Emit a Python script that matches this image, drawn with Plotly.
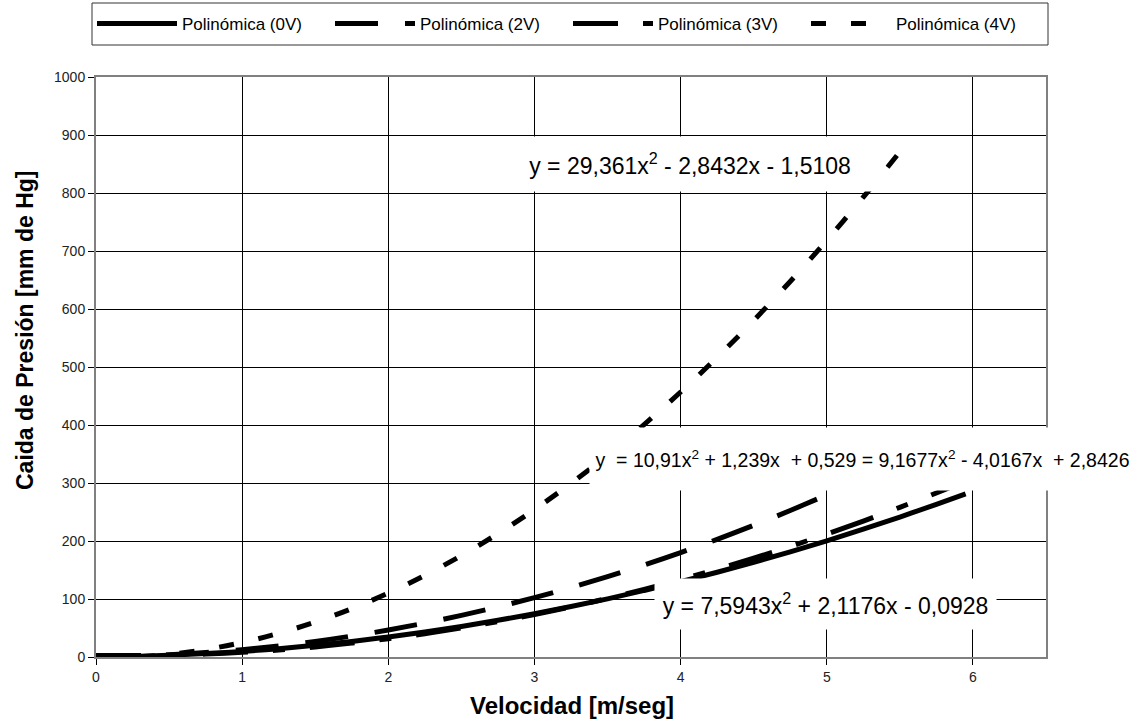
import plotly.graph_objects as go

# ---- data ----
x_0v = [0, 0.25, 0.5, 0.75, 1, 1.25, 1.5, 1.75, 2, 2.25, 2.5, 2.75, 3, 3.25, 3.5, 3.75,
        4, 4.25, 4.5, 4.75, 5, 5.25, 5.5, 5.75, 5.95]
y_0v = [0, 1, 3, 6, 9.6, 14.4, 20.2, 26.9, 34.5, 43.1, 52.7, 63.2, 74.6, 87, 100.3, 114.7,
        129.9, 146.1, 163.2, 181.3, 200.4, 220.3, 241.3, 263.2, 281.4]

x_2v = [0, 0.25, 0.5, 0.75, 1, 1.25, 1.5, 1.75, 2, 2.25, 2.5, 2.75, 3, 3.25, 3.5, 3.75,
        4, 4.25, 4.5, 4.75, 5, 5.1]
y_2v = [0.5, 1.5, 3.9, 7.6, 12.7, 19.1, 26.9, 36.1, 46.6, 58.5, 71.8, 86.4, 102.4, 119.8,
        138.5, 158.6, 180, 202.9, 227, 252.6, 279.5, 290.6]

x_3v = [0, 0.25, 0.5, 0.75, 1, 1.25, 1.5, 1.75, 2, 2.25, 2.5, 2.75, 3, 3.25, 3.5, 3.75,
        4, 4.25, 4.5, 4.75, 5, 5.25, 5.5, 5.75, 5.9]
y_3v = [2.8, 2.4, 3.1, 5, 8, 12.1, 17.4, 23.9, 31.5, 40.2, 50.1, 61.1, 73.3, 86.6, 101.1,
        116.7, 133.5, 151.4, 170.4, 190.6, 212, 234.4, 258.1, 282.8, 298]

x_4v = [0.3, 0.5, 0.75, 1, 1.25, 1.5, 1.75, 2, 2.25, 2.5, 2.75, 3, 3.25, 3.5, 3.75,
        4, 4.25, 4.5, 4.75, 5, 5.25, 5.48]
y_4v = [0.3, 4.4, 12.9, 25, 40.8, 60.3, 83.4, 110.2, 140.7, 174.9, 212.7, 254.2, 299.4,
        348.2, 400.7, 456.9, 516.7, 580.3, 647.5, 718.3, 792.9, 864.6]

series_names = ["Polinómica (0V)", "Polinómica (2V)", "Polinómica (3V)", "Polinómica (4V)"]
eq_4v = "y = 29,361x<sup>2</sup> - 2,8432x - 1,5108"
eq_2v_3v = "y  = 10,91x<sup>2</sup> + 1,239x  + 0,529 = 9,1677x<sup>2</sup> - 4,0167x  + 2,8426"
eq_0v = "y = 7,5943x<sup>2</sup> + 2,1176x - 0,0928"
x_title = "Velocidad [m/seg]"
y_title = "Caida de Presión [mm de Hg]"
x_ticks = [0, 1, 2, 3, 4, 5, 6]
y_ticks = [0, 100, 200, 300, 400, 500, 600, 700, 800, 900, 1000]

W, H = 1139, 725
ML, MR, MT, MB = 96, 93, 77, 68
XMAX, YMAX = 6.5, 1000
PW, PH = W - ML - MR, H - MT - MB


def dx(px):
    return (px - ML) / PW * XMAX


def dy(py):
    return (H - MB - py) / PH * YMAX


def px_to_paper_x(px):
    return (px - ML) / PW


def py_to_paper_y(py):
    return (H - MB - py) / PH


font_main = "Liberation Sans, Arial, sans-serif"

fig = go.Figure()
styles = [
    dict(dash="solid"),
    dict(dash="43px,27px"),
    dict(dash="45px,25px,12px,25px"),
    dict(dash="15px,25px"),
]
for (xs, ys), name, st in zip([(x_0v, y_0v), (x_2v, y_2v), (x_3v, y_3v), (x_4v, y_4v)],
                              series_names, styles):
    fig.add_trace(go.Scatter(x=xs, y=ys, mode="lines", name=name,
                             line=dict(color="black", width=5, shape="spline", **st)))

fig.update_layout(
    width=W, height=H,
    margin=dict(l=ML, r=MR, t=MT, b=MB),
    paper_bgcolor="white", plot_bgcolor="white",
    showlegend=True,
    legend=dict(
        orientation="h", xref="container", yref="container",
        x=92 / W, y=1 - 24 / H, xanchor="left", yanchor="middle",
        font=dict(family=font_main, size=17, color="black"),
        borderwidth=0, bgcolor="rgba(0,0,0,0)",
        itemwidth=80, entrywidth=143, entrywidthmode="pixels",
        traceorder="normal",
    ),
    xaxis=dict(range=[0, XMAX], tickvals=x_ticks, showgrid=True, gridcolor="black", gridwidth=1,
               zeroline=False, showline=True, linecolor="#808080", linewidth=2, mirror=True,
               ticks="outside", ticklen=6, tickcolor="black",
               tickfont=dict(family=font_main, size=14, color="#222")),
    yaxis=dict(range=[0, YMAX], tickvals=y_ticks, showgrid=True, gridcolor="black", gridwidth=1,
               zeroline=False, showline=True, linecolor="#808080", linewidth=2, mirror=True,
               ticks="outside", ticklen=6, tickcolor="black",
               tickfont=dict(family=font_main, size=14, color="#222")),
)

# legend frame
fig.add_shape(type="rect", xref="paper", yref="paper",
              x0=px_to_paper_x(92), x1=px_to_paper_x(1048),
              y0=py_to_paper_y(45), y1=py_to_paper_y(3),
              line=dict(color="#333", width=1), fillcolor="rgba(0,0,0,0)", layer="above")

fig.add_annotation(x=dx(690), y=dy(164), xref="x", yref="y", text=eq_4v, showarrow=False,
                   font=dict(family=font_main, size=23, color="black"),
                   bgcolor="white", width=390, height=54, borderpad=0)
fig.add_annotation(x=dx(862), y=dy(459), xref="x", yref="y", text=eq_2v_3v, showarrow=False,
                   font=dict(family=font_main, size=19.5, color="black"),
                   bgcolor="white", width=545, height=62, borderpad=0)
fig.add_annotation(x=dx(825), y=dy(604), xref="x", yref="y", text=eq_0v, showarrow=False,
                   font=dict(family=font_main, size=23, color="black"),
                   bgcolor="white", width=341, height=50, borderpad=0)

fig.add_annotation(x=px_to_paper_x(572), y=py_to_paper_y(705), xref="paper", yref="paper",
                   xanchor="center", yanchor="middle",
                   text="<b>" + x_title + "</b>", showarrow=False,
                   font=dict(family=font_main, size=24, color="black"))
fig.add_annotation(x=px_to_paper_x(25), y=py_to_paper_y(330), xref="paper", yref="paper",
                   xanchor="center", yanchor="middle",
                   text="<b>" + y_title + "</b>", showarrow=False, textangle=-90,
                   font=dict(family=font_main, size=23, color="black"))

fig.write_html("out.html")
